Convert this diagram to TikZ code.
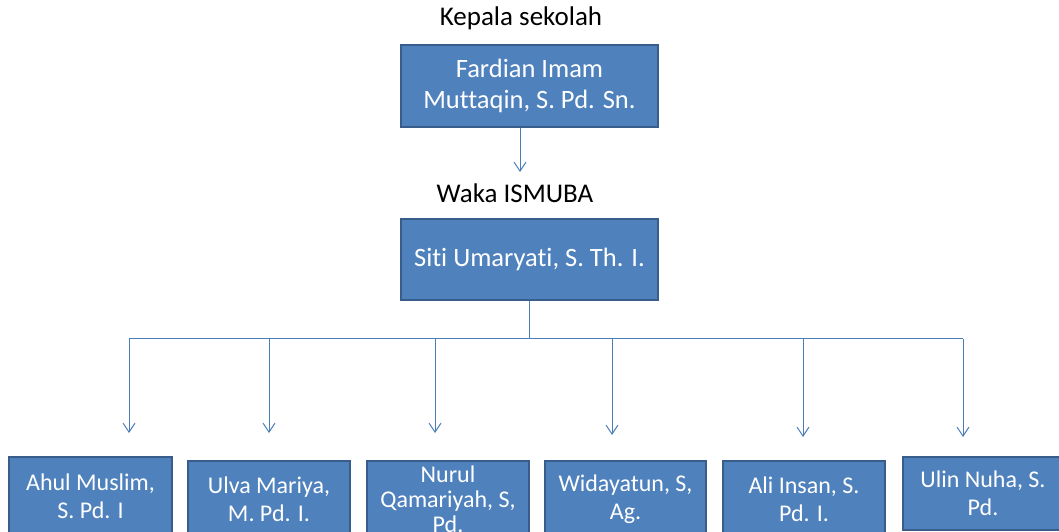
\documentclass[tikz,border=0pt]{standalone}
\usepackage{fontspec}
\setmainfont{Carlito}[Ligatures=NoCommon]
\usetikzlibrary{arrows.meta}
\definecolor{boxfill}{HTML}{4F81BD}
\definecolor{boxline}{HTML}{385D8A}
\definecolor{conn}{HTML}{4A7EBB}
\begin{document}
\begin{tikzpicture}[x=1bp,y=-1bp,
  orgbox/.style={draw=boxline,fill=boxfill,line width=2.2bp,rectangle,inner sep=0pt},
  boxtext/.style={text=white,align=center,font=\fontsize{26.5bp}{31bp}\selectfont,inner sep=0pt},
  smalltext/.style={boxtext,font=\fontsize{24bp}{28bp}\selectfont},
  tighttext/.style={boxtext,font=\fontsize{24bp}{25bp}\selectfont},
  title/.style={text=black,font=\fontsize{27bp}{31bp}\selectfont,inner sep=0pt},
  conline/.style={draw=conn,line width=1bp},
  conarrow/.style={conline,-{Straight Barb[length=9bp,width=12bp,line width=1bp]}}]
\useasboundingbox (0,0) rectangle (1059,532);
% top
\node[title] (k) at (521,18) {Kepala sekolah};
\node[orgbox,minimum width=257bp,minimum height=82bp] (b0) at (529.5,86) {};
\node[boxtext] (t0) at (b0) {Fardian Imam\\Muttaqin, S. Pd. Sn.};
\coordinate (a0) at (520,172);
\draw[conarrow] (b0.south -| a0) -- (a0);
\node[title] (w) at (515,193) {Waka ISMUBA};
\node[orgbox,minimum width=257bp,minimum height=81bp] (b9) at (529.5,259.5) {};
\node[boxtext] (t9) at (b9) {Siti Umaryati, S. Th. I.};
% tree lines
\coordinate (j) at (529,339);
\coordinate (l) at (129,339);
\coordinate (r) at (963,339);
\draw[conline] (b9.south -| j) -- (j);
\draw[conline] (l) -- (r);
\coordinate (a1) at (129,433);
\coordinate (a2) at (269,433);
\coordinate (a3) at (435,433);
\coordinate (a4) at (612,435);
\coordinate (a5) at (803,437);
\coordinate (a6) at (963,437);
\foreach \i in {1,...,6}{\draw[conarrow] (a\i |- j) -- (a\i);}
% bottom boxes
\node[orgbox,minimum width=163bp,minimum height=78bp] (b1) at (90.5,496) {};
\node[smalltext] (t1) at (b1) {Ahul Muslim,\\S. Pd. I};
\node[orgbox,minimum width=162bp,minimum height=76bp] (b2) at (269,499) {};
\node[smalltext] (t2) at (b2) {Ulva Mariya,\\M. Pd. I.};
\node[orgbox,minimum width=162bp,minimum height=76bp] (b3) at (448,499) {};
\node[tighttext] (t3) at (b3) {Nurul\\Qamariyah, S,\\Pd.};
\node[orgbox,minimum width=161bp,minimum height=76bp] (b4) at (625.5,499) {};
\node[smalltext] (t4) at (b4) {Widayatun, S,\\Ag.};
\node[orgbox,minimum width=162bp,minimum height=76bp] (b5) at (804,499) {};
\node[smalltext] (t5) at (b5) {Ali Insan, S.\\Pd. I.};
\node[orgbox,minimum width=160bp,minimum height=73bp] (b6) at (983,493.5) {};
\node[smalltext] (t6) at (b6) {Ulin Nuha, S.\\Pd.};
\end{tikzpicture}
\end{document}
